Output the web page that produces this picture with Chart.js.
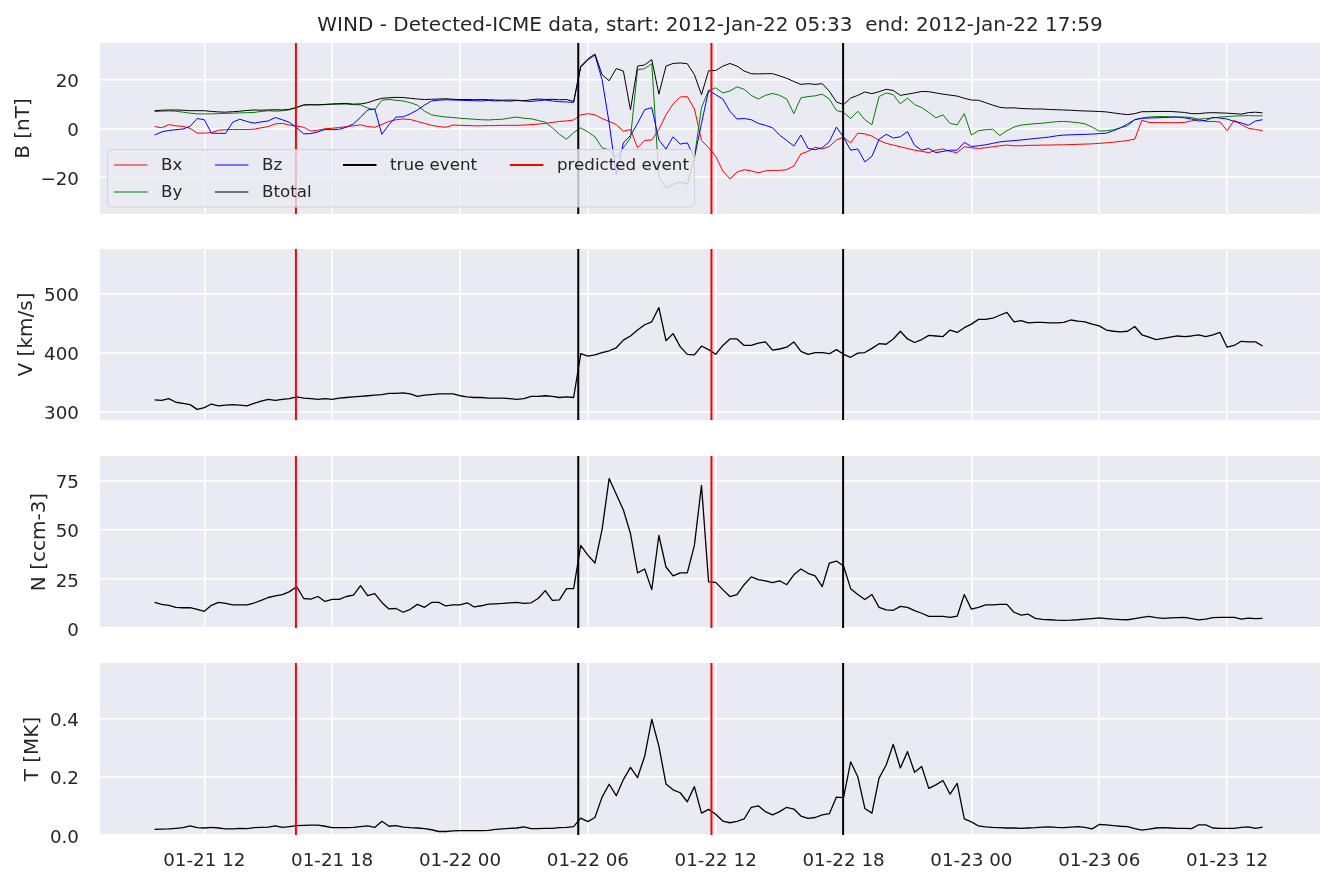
<!DOCTYPE html>
<html>
<head>
<meta charset="utf-8">
<script src="https://cdn.jsdelivr.net/npm/chart.js@4.4.1/dist/chart.umd.min.js"></script>
<style>
  html, body { margin: 0; padding: 0; background: #fff; }
  #figura { position: relative; width: 1336px; height: 886px; }
  #figura canvas { position: absolute; left: 0; }
</style>
</head>
<body>
<div id="figura">
  <canvas id="graficoB"></canvas>
  <canvas id="graficoV"></canvas>
  <canvas id="graficoN"></canvas>
  <canvas id="graficoT"></canvas>
</div>
<script>
// horas desde 2012-01-21 00:00, una muestra cada 20 min
const inicioHoras = 9 + 40 / 60;
const pasoHoras = 1 / 3;
const marcasHoras = [12, 18, 24, 30, 36, 42, 48, 54, 60];
const eventoReal = [29.55, 41.98];
const eventoPredicho = [16.3, 35.8];
const titulo = 'WIND - Detected-ICME data, start: 2012-Jan-22 05:33  end: 2012-Jan-22 17:59';

const Bx = [
  0.7, 0.2, 1.5, 1.0, 0.8, 0.0, -2.0, -2.0, -1.8, -0.8,
  -0.6, -0.5, -0.5, -0.5, -0.4, 0.2, 0.7, 1.8, 2.0, 1.3,
  0.9, 0.4, -1.2, -0.8, -0.2, 0.0, 0.3, 0.7, 1.0, 1.4,
  0.7, 0.4, 1.6, 2.8, 3.5, 3.8, 3.6, 2.8, 2.0, 1.2,
  0.7, 0.4, 1.3, 1.2, 1.1, 1.0, 1.0, 1.1, 1.1, 1.2,
  1.2, 1.2, 1.3, 1.5, 1.7, 2.0, 2.4, 2.8, 3.0, 3.4,
  5.5, 6.0, 5.5, 4.0, 2.8, 1.5, -1.2, -0.5, -8, -5,
  -4.8, -0.5, 5.5, 10, 12.8, 13, 8, -5, -8, -11.5,
  -17.5, -20.8, -18, -17, -17.5, -18.3, -17.5, -17.3, -17.3, -17,
  -15.5, -10.5, -9.5, -7.8, -8.5, -7.5, -4.8, -3.7, -6, -2,
  -2.3, -3.2, -5, -6.2, -6.9, -7.6, -8.3, -9, -9.5, -10,
  -9, -8.5, -9.5, -10, -7.6, -8, -8.3, -8.0, -7.6, -7.2,
  -6.9, -7.2, -7.2, -7.0, -7.0, -6.9, -6.9, -6.8, -6.8, -6.7,
  -6.6, -6.5, -6.4, -6.2, -6.0, -5.7, -5.4, -5.0, -4.5, 3.3,
  2.4, 2.3, 2.3, 2.3, 2.3, 2.4, 3.0, 3.7, 2.8, 2.8,
  2.6, -1.0, 3.3, 1.5, 0.0, -0.5, -1.0
];
const By = [
  6.9, 7.0, 7.1, 7.0, 6.6, 6.2, 5.9, 5.9, 5.9, 6.0,
  6.1, 6.2, 6.3, 6.4, 6.5, 6.9, 7.2, 7.0, 7.2, 7.6,
  8.5, 9.5, 9.6, 9.6, 9.7, 9.8, 9.9, 9.9, 9.7, 9.6,
  8.3, 7.6, 11.5, 11.8, 11.5, 11.2, 10.5, 9.5, 7.0, 5.5,
  5.0, 4.6, 4.4, 4.1, 3.9, 3.7, 3.5, 3.4, 3.6, 3.7,
  4.2, 4.6, 4.1, 3.9, 3.2, 2.5, 0.2, -2.5, -4.5, -1.8,
  0.2, -1.5, -3.5, -8, -9, -12, -8, -4, 24, 24.5,
  26.5, -20, -24.5, -23, -22, -23, -12, 8.5, 15.5, 16.6,
  14.5, 15.3, 17, 16, 13.5, 12, 13.5, 14.3, 13.5, 12,
  6, 12.5, 13, 13.3, 14, 12, 7.3, 6.5, 4, 7,
  3.5, 1.5, 13, 14.5, 13.8, 10, 12.4, 9.7, 8.5, 6.5,
  4.3, 5.5, 2, 1.4, 6, -2.8, -1, -0.6, -0.4, -3,
  -1, 0.5, 1.3, 1.6, 1.9, 2.1, 2.4, 2.7, 2.8, 2.6,
  2.3, 1.8, 0.5, -1.2, -1.0, -0.6, 0.2, 1.0, 3.5, 4.2,
  4.6, 4.8, 4.8, 4.7, 4.6, 4.6, 4.4, 3.7, 4.0, 4.2,
  4.6, 4.8, 5.0, 5.1, 5.2, 5.1, 5.1
];
const Bz = [
  -2.8, -1.5, -0.9, -0.6, -0.3, 0.8, 4.0, 3.5, -2.0, -2.1,
  -2.1, 2.5, 3.7, 2.8, 2.1, 2.6, 3.0, 4.4, 3.5, 2.4,
  0.2, -2.3, -2.2, -1.5, -0.5, -0.6, -0.4, 0.4, 1.8, 4.5,
  7.5, 7.9, -2.5, 1.5, 4.6, 4.7, 5.9, 7.5, 9.5, 11.2,
  11.5, 11.7, 11.6, 11.5, 11.4, 11.3, 11.2, 11.4, 11.2, 11.3,
  11.1, 11.4, 11.2, 11.0, 11.3, 11.6, 11.2, 10.9, 10.8, 10.6,
  25, 28, 30, 20, 2.1, -19, -6, -3, 2, 7.6,
  8.5, -4.8, -8.5, -3.5, -6.5, -6, -12, 2, 15.5, 13.8,
  12, 7, 3.8, 4, 3.5, 2, 1.2, 0.2, -2.8, -5,
  -7.3, -2.8, -8.3, -8.8, -8, -5.5, 0.5, -3.7, -9, -8.5,
  -13.8, -11.5, -4.5, -2.5, -4, -3.5, -1.4, -7, -9, -8.3,
  -10, -9.5, -9, -9, -5.8, -7.5, -7.2, -6.8, -6.2, -5.6,
  -5.3, -5.1, -4.8, -4.5, -4.2, -3.9, -3.6, -3.1, -2.8, -2.7,
  -2.6, -2.5, -2.4, -2.2, -2.0, -1.0, 0.2, 1.8, 3.5, 4.1,
  4.2, 4.3, 4.4, 4.5, 4.6, 4.3, 3.8, 3.0, 3.2, 4.5,
  4.2, 3.8, 2.8, 2.2, 1.2, 3.0, 3.5
];
const Btotal = [
  7.2, 7.4, 7.5, 7.5, 7.4, 7.2, 7.2, 7.2, 6.9, 6.7,
  6.6, 6.8, 7.0, 7.3, 7.5, 7.4, 7.5, 7.6, 7.5, 7.8,
  8.6, 9.6, 9.7, 9.6, 9.8, 10.0, 10.1, 10.2, 9.9, 10.0,
  10.5, 11.5, 12.3, 12.5, 12.7, 12.6, 12.3, 12.0, 11.8, 11.9,
  12.0, 12.1, 11.9, 11.8, 11.8, 11.7, 11.8, 11.7, 11.6, 11.5,
  11.6, 11.5, 11.3, 11.7, 12.0, 11.8, 11.9, 11.7, 11.8, 11.0,
  25.5, 28.5, 30.5, 22, 19.5, 24.5, 23.5, 7.5, 25.5, 26,
  28.2, 14, 25.5, 26.6, 26.8, 26.5, 22, 13.8, 23.6, 23.7,
  25.5, 26.6, 25.5, 23.5, 22.4, 22.3, 22.4, 22.4, 21.5, 20.5,
  19.2, 18.0, 18.3, 18.0, 18.3, 15.2, 10.8, 9.7, 12.4, 13.5,
  14.9, 14.2, 15, 16, 15.5, 13.5, 14, 14.5, 15.1, 15,
  14.5, 14, 13.6, 13.2, 12.3, 11.6, 11.5, 10.5, 9.5, 8.6,
  8.3, 8.4, 8.1, 8.0, 7.9, 7.9, 7.7, 7.6, 7.5, 7.4,
  7.2, 7.1, 7.0, 6.9, 6.7, 6.3, 5.9, 5.6, 6.0, 6.8,
  6.8, 6.9, 6.9, 6.9, 6.7, 6.5, 6.0, 6.0, 6.3, 6.4,
  6.3, 6.2, 6.0, 5.8, 6.4, 6.6, 6.3
];
const V = [
  320, 319, 322, 316, 314, 312, 304, 307, 313, 310,
  311, 312, 311, 310, 314, 318, 321, 319, 321, 322,
  325, 323, 322, 321, 322, 321, 323, 324, 325, 326,
  327, 328, 329, 331, 331, 332, 330, 326, 328, 329,
  330, 330, 330, 327, 325, 324, 324, 323, 323, 323,
  322, 321, 322, 326, 326, 327, 326, 324, 325, 324,
  398, 394, 396, 400, 403, 408, 421, 428, 438, 447,
  452, 476, 420, 432, 410, 397, 396, 411, 405, 397,
  412, 423, 423, 412, 412, 416, 418, 404, 406, 409,
  418, 402, 397, 400, 400, 398, 405, 397, 392, 399,
  400, 407, 415, 414, 423, 436, 423, 417, 422, 429,
  428, 427, 438, 434, 442, 448, 456, 456, 458, 463,
  468, 452, 454, 450, 451, 451, 450, 450, 451, 455,
  453, 452, 448, 445, 438, 436, 435, 436, 444, 430,
  426, 422, 424, 426, 428, 427, 428, 430, 427, 430,
  434, 409, 412, 419, 418, 418, 411
];
const N = [
  13, 12, 11.5, 10.5, 10.3, 10.3, 9.5, 8.5, 11.5, 13,
  12.5, 11.8, 11.8, 11.8, 12.7, 14, 15.5, 16.3, 17, 18.5,
  21, 15, 14.7, 16, 13.5, 14.5, 14.5, 16, 16.7, 21.5,
  16.5, 17.5, 13, 9.7, 9.9, 8, 9.5, 12, 10.5, 13,
  13, 11.2, 11.8, 11.8, 12.8, 10.7, 11.3, 12.1, 12.3, 12.5,
  12.8, 13, 12.5, 12.8, 15, 19, 14, 14.3, 20, 20,
  42, 37, 33, 50, 76, 68, 60, 48, 28, 30,
  19.5, 47, 31, 26.5, 28, 28, 42, 72.5, 23.4, 23.2,
  19.5, 16, 17, 22, 26, 24.6, 24, 23, 24, 22,
  27, 30, 27.8, 26.5, 21, 33, 34, 31.5, 20, 17,
  14.5, 17, 10.5, 9.2, 9, 11, 10.5, 8.8, 7.5, 5.9,
  5.9, 5.9, 5.4, 6, 17, 9.6, 10.5, 11.7, 11.8, 12,
  12, 8, 6.5, 7, 4.9, 4.4, 4.2, 4, 3.9, 4,
  4.2, 4.5, 4.8, 5.1, 4.8, 4.5, 4.3, 4.2, 4.8, 5.4,
  5.9, 5.3, 4.9, 5.1, 5.3, 5.4, 4.8, 4.1, 4.5, 5.3,
  5.4, 5.4, 5.4, 4.5, 5, 4.8, 4.9
];
const T = [
  0.019, 0.020, 0.021, 0.023, 0.025, 0.031, 0.025, 0.024, 0.026, 0.024,
  0.021, 0.021, 0.023, 0.022, 0.025, 0.026, 0.027, 0.031, 0.026, 0.029,
  0.032, 0.033, 0.034, 0.034, 0.030, 0.025, 0.025, 0.025, 0.026, 0.029,
  0.031, 0.026, 0.047, 0.030, 0.032, 0.027, 0.025, 0.024, 0.022, 0.018,
  0.012, 0.012, 0.014, 0.015, 0.015, 0.015, 0.015, 0.016, 0.019, 0.021,
  0.023, 0.024, 0.028, 0.022, 0.022, 0.023, 0.023, 0.025, 0.026, 0.029,
  0.058, 0.046, 0.060, 0.130, 0.174, 0.135, 0.190, 0.232, 0.197, 0.270,
  0.397, 0.305, 0.175, 0.155, 0.145, 0.114, 0.166, 0.075, 0.088, 0.071,
  0.048, 0.042, 0.047, 0.055, 0.095, 0.100, 0.080, 0.069, 0.080, 0.095,
  0.089, 0.065, 0.057, 0.060, 0.069, 0.073, 0.130, 0.128, 0.251, 0.200,
  0.091, 0.075, 0.195, 0.240, 0.311, 0.230, 0.286, 0.215, 0.235, 0.160,
  0.172, 0.187, 0.140, 0.177, 0.055, 0.045, 0.031, 0.028, 0.026, 0.025,
  0.024, 0.024, 0.023, 0.024, 0.025, 0.027, 0.028, 0.026, 0.025, 0.027,
  0.029, 0.026, 0.021, 0.036, 0.035, 0.032, 0.030, 0.029, 0.022, 0.017,
  0.020, 0.024, 0.025, 0.024, 0.023, 0.023, 0.022, 0.035, 0.035, 0.024,
  0.023, 0.023, 0.023, 0.026, 0.028, 0.023, 0.027
];

const horas = V.map((_, i) => inicioHoras + i * pasoHoras);
const xMin = 7.105, xMax = 64.36;
const tinta = '#262626';
const letraTicks = 18.3, letraEtiqueta = 20, letraLeyenda = 16.7;

Chart.defaults.font.family = '"DejaVu Sans", sans-serif';
Chart.defaults.color = tinta;

function serie(valores) {
  return valores.map((v, i) => ({ x: horas[i], y: v }));
}

// líneas verticales que cruzan todo el panel
function lineasEvento(tiempos, lo, hi) {
  const puntos = [];
  tiempos.forEach(t => {
    puntos.push({ x: t, y: lo }, { x: t, y: hi }, { x: t, y: null });
  });
  return puntos;
}

function etiquetaHora(v) {
  const dia = 21 + Math.floor(v / 24);
  const h = v % 24;
  return '01-' + dia + ' ' + (h < 10 ? '0' + h : h);
}

const fondoPanel = {
  id: 'fondoPanel',
  beforeDraw(chart) {
    const { ctx, chartArea: a } = chart;
    ctx.save();
    ctx.fillStyle = '#eaeaf2';
    ctx.fillRect(a.left, a.top, a.right - a.left, a.bottom - a.top);
    ctx.restore();
  }
};

const tituloFigura = {
  id: 'tituloFigura',
  afterDraw(chart) {
    const { ctx, chartArea: a } = chart;
    ctx.save();
    ctx.font = '20px "DejaVu Sans"';
    ctx.fillStyle = tinta;
    ctx.textAlign = 'center';
    ctx.textBaseline = 'alphabetic';
    ctx.fillText(titulo, (a.left + a.right) / 2, 31);
    ctx.restore();
  }
};

// leyenda en 4 columnas como la de matplotlib
const leyendaB = {
  id: 'leyendaB',
  afterDraw(chart) {
    const ctx = chart.ctx;
    const huecos = [[114, 165], [114, 192], [215, 165], [215, 192], [343, 165], [510, 165]];
    ctx.save();
    const x0 = 107.5, y0 = 149.5, w = 587, h = 57.5, r = 4;
    ctx.beginPath();
    ctx.moveTo(x0 + r, y0);
    ctx.arcTo(x0 + w, y0, x0 + w, y0 + h, r);
    ctx.arcTo(x0 + w, y0 + h, x0, y0 + h, r);
    ctx.arcTo(x0, y0 + h, x0, y0, r);
    ctx.arcTo(x0, y0, x0 + w, y0, r);
    ctx.closePath();
    ctx.fillStyle = 'rgba(234,234,242,0.8)';
    ctx.fill();
    ctx.strokeStyle = 'rgba(204,204,204,0.8)';
    ctx.lineWidth = 1;
    ctx.stroke();
    ctx.font = letraLeyenda + 'px "DejaVu Sans"';
    ctx.textAlign = 'left';
    ctx.textBaseline = 'middle';
    chart.data.datasets.forEach(ds => {
      if (ds.posLeyenda === undefined) return;
      const [x, y] = huecos[ds.posLeyenda];
      ctx.beginPath();
      ctx.moveTo(x, y);
      ctx.lineTo(x + 33.5, y);
      ctx.strokeStyle = ds.borderColor;
      ctx.lineWidth = ds.borderWidth;
      ctx.stroke();
      ctx.fillStyle = tinta;
      ctx.fillText(ds.label, x + 47, y + 1);
    });
    ctx.restore();
  }
};

function crearPanel(id, p) {
  const canvas = document.getElementById(id);
  canvas.width = 1336;
  canvas.height = p.alto;
  canvas.style.top = p.arriba + 'px';
  const conEje = p.ejeX > 0;
  const datasets = p.series.map(s => ({
    label: s.label,
    data: serie(s.valores),
    borderColor: s.color,
    borderWidth: s.ancho,
    posLeyenda: s.pos,
    order: s.orden,
    pointRadius: 0,
    tension: 0,
    fill: false,
    borderJoinStyle: 'round'
  }));
  datasets.push({
    label: 'true event',
    data: lineasEvento(eventoReal, p.yMin, p.yMax),
    borderColor: '#000000', borderWidth: 2, pointRadius: 0, order: 0,
    posLeyenda: p.leyenda ? 4 : undefined
  });
  datasets.push({
    label: 'predicted event',
    data: lineasEvento(eventoPredicho, p.yMin, p.yMax),
    borderColor: '#ff0000', borderWidth: 2, pointRadius: 0, order: 0,
    posLeyenda: p.leyenda ? 5 : undefined
  });

  return new Chart(canvas, {
    type: 'line',
    data: { datasets: datasets },
    plugins: [fondoPanel].concat(p.extras || []),
    options: {
      responsive: false,
      animation: false,
      devicePixelRatio: 1,
      events: [],
      spanGaps: false,
      layout: {
        autoPadding: false,
        padding: { left: 0, right: 16, top: p.margenArriba || 0, bottom: p.margenAbajo || 0 }
      },
      plugins: { legend: { display: false }, tooltip: { enabled: false }, title: { display: false } },
      scales: {
        x: {
          type: 'linear',
          min: xMin,
          max: xMax,
          border: { display: false },
          grid: { color: '#ffffff', lineWidth: 1.5, drawTicks: false },
          ticks: {
            display: conEje,
            padding: 15,
            maxRotation: 0,
            font: { size: letraTicks },
            color: tinta,
            callback: v => etiquetaHora(v)
          },
          afterBuildTicks: s => { s.ticks = marcasHoras.map(v => ({ value: v })); },
          afterFit: s => { s.height = p.ejeX; s.paddingLeft = 0; s.paddingRight = 0; }
        },
        y: {
          type: 'linear',
          min: p.yMin,
          max: p.yMax,
          border: { display: false },
          grid: { color: '#ffffff', lineWidth: 1.5, drawTicks: false },
          ticks: {
            padding: 21,
            autoSkip: false,
            // línea vacía delante para bajar el texto unos px, como en matplotlib
            font: { size: letraTicks, lineHeight: '6px' },
            color: tinta,
            callback: v => ['', p.formato(v)]
          },
          title: {
            display: true,
            text: p.etiqueta,
            font: { size: letraEtiqueta },
            color: tinta,
            padding: { top: p.padEtiqueta, bottom: 0 }
          },
          afterBuildTicks: s => { s.ticks = p.marcas.map(v => ({ value: v })); },
          afterFit: s => { s.width = 100; s.paddingTop = 0; s.paddingBottom = 0; }
        }
      }
    }
  });
}

// Gráfico de campo magnético
crearPanel('graficoB', {
  arriba: 0, alto: 214, margenArriba: 43, ejeX: 0,
  yMin: -35.2, yMax: 35, marcas: [-20, 0, 20],
  formato: v => (v < 0 ? '\u2212' + Math.abs(v) : String(v)),
  etiqueta: 'B [nT]', padEtiqueta: 12, leyenda: true,
  extras: [tituloFigura, leyendaB],
  series: [
    { label: 'Bx', valores: Bx, color: '#ff0000', ancho: 1, pos: 0, orden: 4 },
    { label: 'By', valores: By, color: '#008000', ancho: 1, pos: 1, orden: 3 },
    { label: 'Bz', valores: Bz, color: '#0000ff', ancho: 1, pos: 2, orden: 2 },
    { label: 'Btotal', valores: Btotal, color: '#000000', ancho: 1, pos: 3, orden: 1 }
  ]
});

// Gráfico de velocidad
crearPanel('graficoV', {
  arriba: 249, alto: 171, ejeX: 0,
  yMin: 286, yMax: 575, marcas: [300, 400, 500],
  formato: v => String(v),
  etiqueta: 'V [km/s]', padEtiqueta: 15,
  series: [{ label: 'V', valores: V, color: '#000000', ancho: 1.3, orden: 1 }]
});

// Gráfico de densidad
crearPanel('graficoN', {
  arriba: 456, alto: 186, margenAbajo: 14, ejeX: 0,
  yMin: 0, yMax: 87.4, marcas: [0, 25, 50, 75],
  formato: v => String(v),
  etiqueta: 'N [ccm-3]', padEtiqueta: 28,
  series: [{ label: 'N', valores: N, color: '#000000', ancho: 1.3, orden: 1 }]
});

// Gráfico de temperatura
crearPanel('graficoT', {
  arriba: 663, alto: 223, ejeX: 51,
  yMin: 0, yMax: 0.59, marcas: [0, 0.2, 0.4],
  formato: v => v.toFixed(1),
  etiqueta: 'T [MK]', padEtiqueta: 21,
  series: [{ label: 'T', valores: T, color: '#000000', ancho: 1.3, orden: 1 }]
});
</script>
</body>
</html>
